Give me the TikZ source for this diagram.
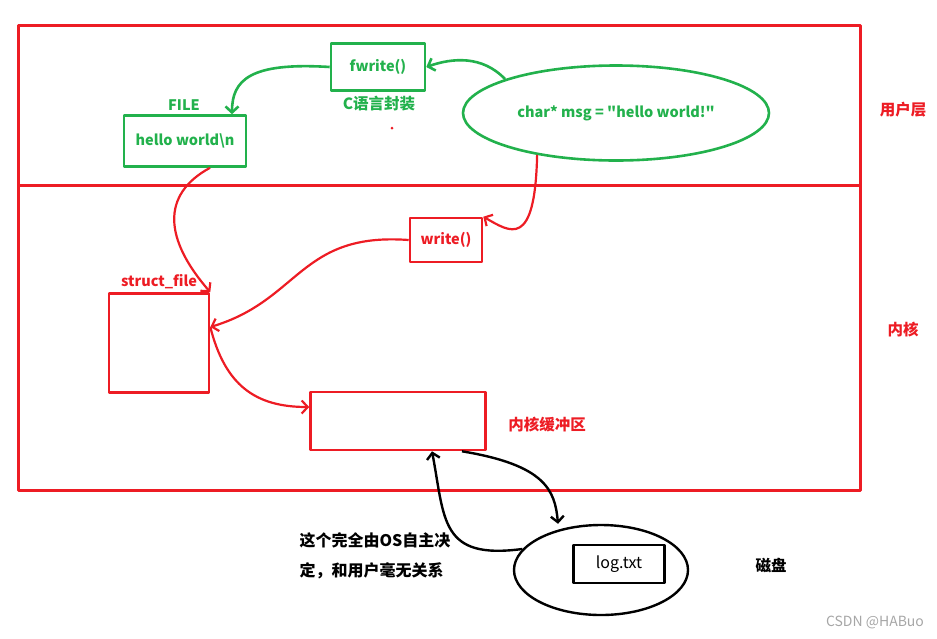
\documentclass[tikz,border=0pt]{standalone}
\usepackage{fontspec}
\usepackage[x11names, svgnames, rgb]{xcolor}
\usepackage{tikz}
\usetikzlibrary{arrows.meta,shapes}
\newfontfamily\cjk{Noto Sans CJK SC}
\definecolor{paintgreen}{RGB}{34,177,76}
\definecolor{paintred}{RGB}{237,28,36}
\tikzset{
  gbox/.style={draw=paintgreen,line width=2.6pt,text=paintgreen,inner sep=0pt},
  rbox/.style={draw=paintred,line width=2.6pt,text=paintred,inner sep=0pt},
  kbox/.style={draw=black,line width=2.4pt,text=black,inner sep=0pt},
  lbl/.style={font=\cjk\bfseries\fontsize{14.5}{17}\selectfont},
  hanzi/.style={font=\cjk\bfseries\fontsize{15.5}{17}\selectfont}
}

\begin{document}
\begin{tikzpicture}[x=1pt,y=-1pt,>={Straight Barb[length=6pt,width=13pt]},line join=bevel,lbl]
\useasboundingbox (0,0) rectangle (937,638);
%%
\draw [paintred,line width=3pt] (18,25) rectangle (860,490);
\draw [paintred,line width=3pt] (18,185) -- (860,185);
\node (ulayer) at (903,110) [text=paintred,hanzi] {用户层};
\node (klayer) at (903,330) [text=paintred,hanzi] {内核};
%
\node (fwrite) at (378,67) [gbox,minimum width=94pt,minimum height=47pt] {fwrite()};
  \node (clib) at (379,104) [text=paintgreen,hanzi] {C语言封装};
  \node (hello) at (185,141) [gbox,minimum width=122pt,minimum height=51pt] {hello world\textbackslash n};
  \node (file) at (184,105) [text=paintgreen] {FILE};
  \node (msg) at (616,113) [gbox,ellipse,minimum width=306pt,minimum height=95pt] {char* msg = "hello world!"};
  \fill [paintred] (392,128) circle (1.5pt);
  \node (write) at (446,240) [rbox,minimum width=72pt,minimum height=44pt] {write()};
  \node (sfile) at (159,343) [rbox,minimum width=100pt,minimum height=99pt] {};
  \node (sfilel) at (159,282) [text=paintred] {struct\_file};
  \node (kbuf) at (398,421) [rbox,minimum width=175pt,minimum height=58pt] {};
  \node (kbufl) at (547,425) [text=paintred,hanzi] {内核缓冲区};
  \node (disk) at (601,570) [kbox,ellipse,minimum width=174pt,minimum height=90pt] {};
  \node (log) at (619,564) [kbox,minimum width=91pt,minimum height=38pt,font=\cjk\fontsize{16}{18}\selectfont] {log.txt};
  \node (diskl) at (771,565) [hanzi] {磁盘};
  \node (note) at (296,556) [anchor=west,align=left,font=\cjk\bfseries\fontsize{16}{30}\selectfont] {这个完全由OS自主决\\定，和用户毫无关系};
  \node (mark) at (875,622) [text=Gray!70,font=\cjk\fontsize{14}{16}\selectfont] {CSDN @HABuo};
  \coordinate (sfilein) at (sfile.east |- 0,327);
  \coordinate (kbufin) at (kbuf.west |- 0,407);
%
  \draw [->,paintgreen,line width=2.6pt] (msg.163) ..controls (482,55) and (452,58)  .. (fwrite.east);
  \draw [->,paintgreen,line width=2.6pt] (fwrite.west) ..controls (250,62) and (232,80)  .. (hello.north east -| 232,114);
  \draw [->,paintred,line width=2.2pt] (msg.208) ..controls (535,250) and (510,232)  .. (write.north east);
  \draw [->,paintred,line width=2.2pt] (hello.south east -| 210,168) ..controls (160,195) and (165,240)  .. (sfile.north east);
  \draw [->,paintred,line width=2.2pt] (write.west) ..controls (300,232) and (300,300)  .. (sfilein);
  \draw [->,paintred,line width=2.2pt] (sfilein) ..controls (225,385) and (255,407)  .. (kbufin);
  \draw [->,line width=2.4pt] (disk.165) ..controls (440,560) and (445,520)  .. (kbuf.south -| 432,450);
  \draw [->,line width=2.4pt] (kbuf.south -| 462,450) ..controls (545,465) and (555,490)  .. (disk.north -| 558,527);
%
\end{tikzpicture}
\end{document}
